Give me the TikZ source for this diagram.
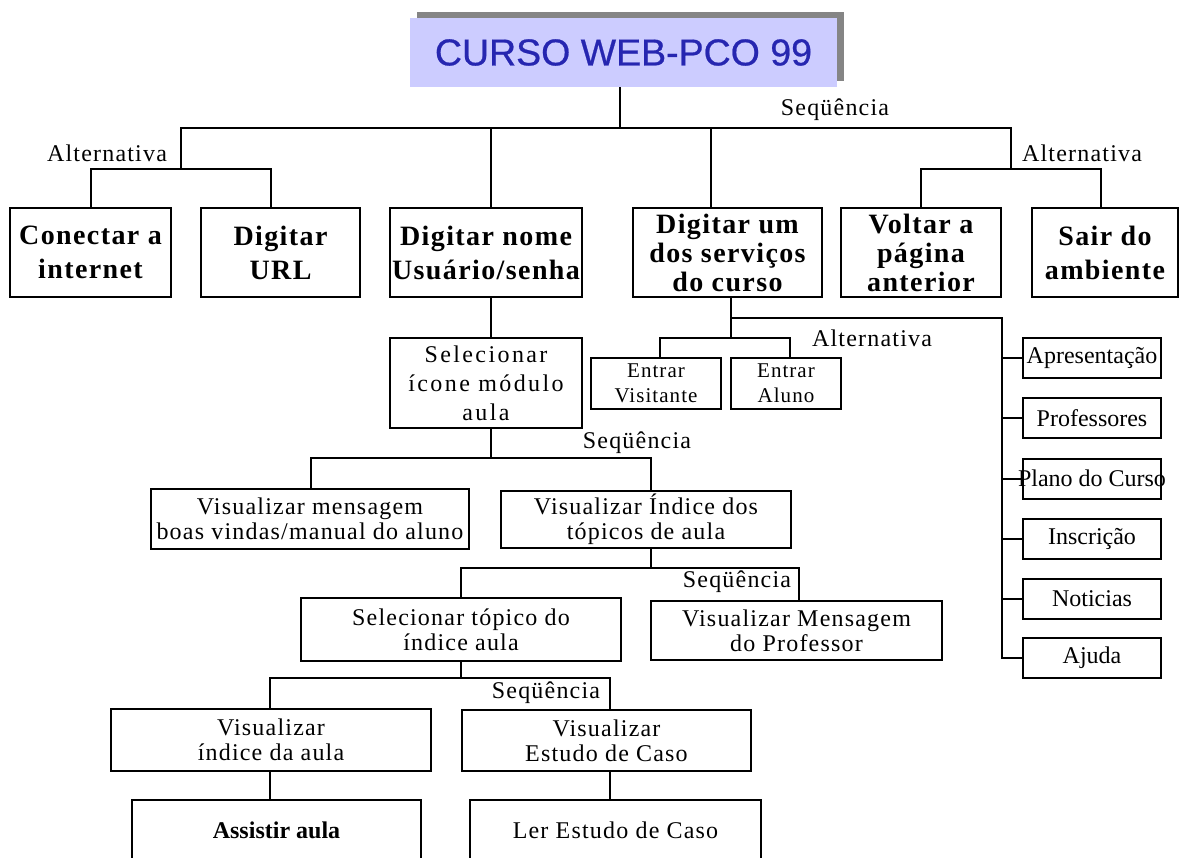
\documentclass[tikz,border=0pt]{standalone}
\usepackage{fontspec}
\setmainfont{Liberation Serif}
\newfontfamily\ls[LetterSpace=5]{Liberation Serif}
\newfontfamily\lsw[LetterSpace=10]{Liberation Serif}
\newfontfamily\titlefont[FakeBold=0.6]{Liberation Sans}
\usetikzlibrary{shadows}
\definecolor{lavender}{HTML}{CCCCFF}
\definecolor{shgray}{HTML}{858585}
\definecolor{titleblue}{HTML}{2626B0}

\begin{document}
\begin{tikzpicture}[x=1pt,y=-1pt,
  box/.style={draw, line width=2pt, inner sep=0pt, align=center},
  topbox/.style={box, minimum height=89, font=\ls\bfseries\fontsize{28}{34}\selectfont},
  topboxiii/.style={topbox, font=\ls\bfseries\fontsize{28}{29}\selectfont},
  plainbox/.style={box, font=\ls\fontsize{24}{25}\selectfont},
  sidebox/.style={box, minimum width=138, minimum height=40, font=\fontsize{24}{25}\selectfont},
  entbox/.style={box, minimum height=51, font=\ls\fontsize{21}{25}\selectfont},
  lbl/.style={inner sep=0pt, font=\ls\fontsize{24}{25}\selectfont},
  wire/.style={line width=2pt, line join=miter},
  titlebox/.style={fill=lavender, inner sep=0pt, minimum width=427, minimum height=69,
    font=\titlefont\fontsize{37.5}{40}\selectfont, text=titleblue,
    drop shadow={shadow xshift=7pt, shadow yshift=6pt, fill=shgray, opacity=1}}
]
\useasboundingbox (0,0) rectangle (1181,857);
\fill[white] (0,0) rectangle (1181,857);
\clip (0,0) rectangle (1181,857);

% title
\node[titlebox] (title) at (623.5,52.5) {CURSO WEB-PCO 99};

% first level
\node[topbox, minimum width=161] (conn) at (90.5,252.5) {Conectar a\\internet};
\node[topbox, minimum width=159] (url) at (280.5,252.5) {Digitar\\URL};
\node[topbox, minimum width=192] (nome) at (486,252.5) {Digitar nome\\Usuário/senha};
\node[topboxiii, minimum width=189] (serv) at (727.5,252.5) {Digitar um\\dos serviços\\do curso};
\node[topboxiii, minimum width=160] (voltar) at (921,252.5) {Voltar a\\página\\anterior};
\node[topbox, minimum width=146] (sair) at (1105,252.5) {Sair do\\ambiente};

% course services
\node[entbox, minimum width=130] (visit) at (656,383.5) {Entrar\\Visitante};
\node[entbox, minimum width=110] (aluno) at (786,383.5) {Entrar\\Aluno};
\node[sidebox] (apres) at (1092,357.5) {Apresentação};
\node[sidebox] (prof) at (1092,418) {Professores};
\node[sidebox] (plano) at (1092,478.5) {\makebox[138pt]{Plano do Curso}};
\node[sidebox] (inscr) at (1092,538.5) {Inscrição};
\node[sidebox] (notic) at (1092,598.5) {Noticias};
\node[sidebox] (ajuda) at (1092,658) {Ajuda};

% lesson module
\node[box, minimum width=192, minimum height=90, font=\lsw\fontsize{24}{29}\selectfont] (icone) at (486,383) {Selecionar\\ícone módulo\\aula};
\node[plainbox, minimum width=318, minimum height=60] (boasv) at (310,519) {Visualizar mensagem\\boas vindas/manual do aluno};
\node[plainbox, minimum width=290, minimum height=57] (indice) at (646,519.5) {Visualizar Índice dos\\tópicos de aula};
\node[plainbox, minimum width=320, minimum height=63] (topico) at (461,629.5) {Selecionar tópico do\\índice aula};
\node[plainbox, minimum width=291, minimum height=59] (msgprof) at (796.5,630.5) {Visualizar Mensagem\\do Professor};
\node[plainbox, minimum width=320, minimum height=62] (vindice) at (271,740) {Visualizar\\índice da aula};
\node[plainbox, minimum width=289, minimum height=61] (vcaso) at (606.5,740.5) {Visualizar\\Estudo de Caso};
\node[box, minimum width=289, minimum height=60, font=\bfseries\fontsize{24}{25}\selectfont] (assistir) at (276.5,830) {Assistir aula};
\node[plainbox, minimum width=291, minimum height=60] (ler) at (615.5,830) {Ler Estudo de Caso};

% branch labels
\node[lbl] (seqA) at (835,110) {Seqüência};
\node[lbl] (altA) at (107,153) {Alternativa};
\node[lbl] (altB) at (1082,153) {Alternativa};
\node[lbl] (altC) at (872,338) {Alternativa};
\node[lbl] (seqB) at (637,443) {Seqüência};
\node[lbl] (seqC) at (737,582) {Seqüência};
\node[lbl] (seqD) at (546,693) {Seqüência};

% junction points
\coordinate (tstem) at (620,128);
\coordinate (busL) at (181,128);
\coordinate (busR) at (1011,128);
\coordinate (jN) at (491,128);
\coordinate (jS) at (711,128);
\coordinate (aL) at (181,169);
\coordinate (aL1) at (91,169);
\coordinate (aL2) at (271,169);
\coordinate (aR) at (1011,169);
\coordinate (aR1) at (921,169);
\coordinate (aR2) at (1101,169);
\coordinate (sv) at (731,318);
\coordinate (ent) at (731,338);
\coordinate (e1) at (660,338);
\coordinate (e2) at (790,338);
\coordinate (rail) at (1002,318);
\coordinate (s1) at (491,458);
\coordinate (s1a) at (311,458);
\coordinate (s1b) at (651,458);
\coordinate (s2) at (651,568);
\coordinate (s2a) at (461,568);
\coordinate (s2b) at (799,568);
\coordinate (s3) at (461,678);
\coordinate (s3a) at (270,678);
\coordinate (s3b) at (610,678);

% connectors
\draw[wire] (tstem |- title.south) -- (tstem);
\draw[wire] (aL) -- (busL) -- (busR) -- (aR);
\draw[wire] (conn.north -| aL1) -- (aL1) -- (aL2) -- (url.north -| aL2);
\draw[wire] (voltar.north -| aR1) -- (aR1) -- (aR2) -- (sair.north -| aR2);
\draw[wire] (jN) -- (nome.north -| jN);
\draw[wire] (jS) -- (serv.north -| jS);

\draw[wire] (nome.south -| jN) -- (icone.north -| jN);
\draw[wire] (serv.south -| sv) -- (ent);
\draw[wire] (visit.north -| e1) -- (e1) -- (e2) -- (aluno.north -| e2);
\draw[wire] (sv) -- (rail) -- (rail |- ajuda.west) -- (ajuda.west);
\foreach \n in {apres,prof,plano,inscr,notic}
  \draw[wire] (rail |- \n.west) -- (\n.west);

\draw[wire] (icone.south -| s1) -- (s1);
\draw[wire] (boasv.north -| s1a) -- (s1a) -- (s1b) -- (indice.north -| s1b);
\draw[wire] (indice.south -| s2) -- (s2);
\draw[wire] (topico.north -| s2a) -- (s2a) -- (s2b) -- (msgprof.north -| s2b);
\draw[wire] (topico.south -| s3) -- (s3);
\draw[wire] (vindice.north -| s3a) -- (s3a) -- (s3b) -- (vcaso.north -| s3b);
\draw[wire] (vindice.south -| s3a) -- (assistir.north -| s3a);
\draw[wire] (vcaso.south -| s3b) -- (ler.north -| s3b);
\end{tikzpicture}
\end{document}
